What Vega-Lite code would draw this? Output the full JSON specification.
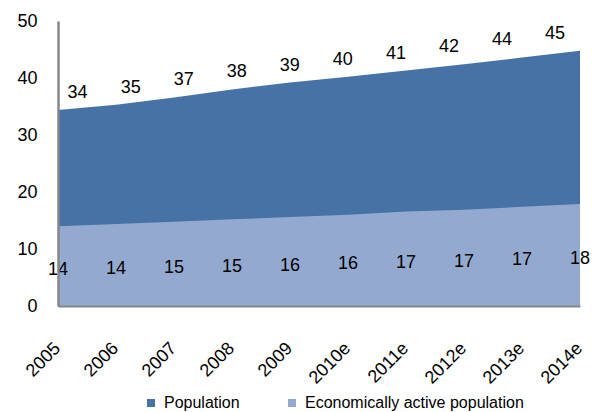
{
  "$schema": "https://vega.github.io/schema/vega-lite/v6.json",
  "width": 522,
  "height": 285,
  "autosize": {"type": "none"},
  "padding": {"left": 58, "top": 21, "right": 23, "bottom": 106},
  "background": "white",
  "config": {
    "view": {"stroke": null},
    "font": "Liberation Sans"
  },
  "data": {
    "values": [
      {"year": "2005", "population": 34.4, "active": 14.0},
      {"year": "2006", "population": 35.3, "active": 14.4},
      {"year": "2007", "population": 36.6, "active": 14.8},
      {"year": "2008", "population": 38.0, "active": 15.2},
      {"year": "2009", "population": 39.2, "active": 15.6},
      {"year": "2010e", "population": 40.2, "active": 16.0},
      {"year": "2011e", "population": 41.3, "active": 16.6},
      {"year": "2012e", "population": 42.4, "active": 16.9},
      {"year": "2013e", "population": 43.6, "active": 17.4},
      {"year": "2014e", "population": 44.8, "active": 17.9}
    ]
  },
  "resolve": {"scale": {"x": "independent", "y": "independent"}},
  "layer": [
    {
      "mark": {"type": "area", "interpolate": "linear"},
      "encoding": {
        "x": {
          "field": "year", "type": "ordinal", "sort": null,
          "scale": {"type": "point", "padding": 0},
          "axis": {
            "title": null, "labelAngle": -45, "ticks": false, "zindex": 1,
            "domainColor": "#868686", "domainWidth": 2,
            "labelFont": "Liberation Sans", "labelFontSize": 18, "labelColor": "#000000",
            "labelPadding": 33, "labelOffset": -7, "labelAlign": "right", "labelBaseline": "top"
          }
        },
        "y": {
          "field": "population", "type": "quantitative", "stack": null,
          "scale": {"domain": [0, 50]},
          "axis": {
            "title": null, "values": [0, 10, 20, 30, 40, 50], "grid": false, "ticks": false, "zindex": 1,
            "domainColor": "#868686", "domainWidth": 2.5,
            "labelFont": "Liberation Sans", "labelFontSize": 18, "labelColor": "#000000",
            "labelPadding": 21
          }
        },
        "color": {
          "datum": "Population", "type": "nominal",
          "scale": {"domain": ["Population", "Economically active population"], "range": ["#4672A6", "#93A9CF"]},
          "legend": {
            "title": null, "orient": "none", "legendX": 85, "legendY": 374,
            "direction": "horizontal", "gridAlign": "none", "columnPadding": 44,
            "symbolType": "square", "symbolSize": 64, "symbolStrokeWidth": 0, "symbolOpacity": 1,
            "labelFont": "Liberation Sans", "labelFontSize": 16, "labelColor": "#000000",
            "labelOffset": 5, "labelLimit": 400
          }
        }
      }
    },
    {
      "mark": {"type": "area", "interpolate": "linear"},
      "encoding": {
        "x": {"field": "year", "type": "ordinal", "sort": null, "scale": {"type": "point", "padding": 0}, "axis": null},
        "y": {"field": "active", "type": "quantitative", "stack": null, "scale": {"domain": [0, 50]}, "axis": null},
        "color": {"datum": "Economically active population", "type": "nominal"}
      }
    },
    {
      "mark": {"type": "text", "dy": -17, "fontSize": 18, "font": "Liberation Sans", "color": "#000000", "baseline": "middle"},
      "encoding": {
        "x": {"field": "year", "type": "ordinal", "sort": null, "scale": {"type": "point", "padding": 0.42, "align": 0.44}, "axis": null},
        "y": {"field": "population", "type": "quantitative", "scale": {"domain": [0, 50]}, "axis": null},
        "text": {"field": "population", "type": "quantitative", "format": ".0f"}
      }
    },
    {
      "mark": {"type": "text", "dy": 4, "fontSize": 18, "font": "Liberation Sans", "color": "#000000", "baseline": "middle"},
      "encoding": {
        "x": {"field": "year", "type": "ordinal", "sort": null, "scale": {"type": "point", "padding": 0}, "axis": null},
        "y": {"field": "active", "type": "quantitative", "scale": {"domain": [0, 100]}, "axis": null},
        "text": {"field": "active", "type": "quantitative", "format": ".0f"}
      }
    }
  ]
}
